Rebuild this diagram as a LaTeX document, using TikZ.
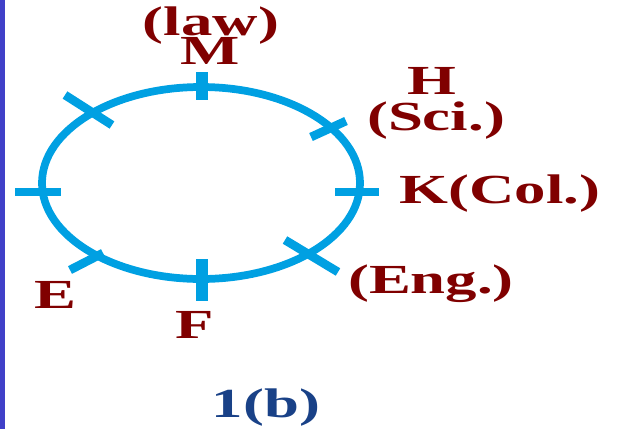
\documentclass[tikz,border=0pt]{standalone}
\usepackage{fontspec}
\setmainfont{Liberation Serif}
\definecolor{lbl}{RGB}{128,0,0}
\definecolor{ringc}{RGB}{0,160,226}
\definecolor{edgec}{RGB}{64,64,200}
\definecolor{capc}{RGB}{25,65,135}
\begin{document}
\begin{tikzpicture}[x=0.75pt,y=-0.75pt,
  lab/.style={text=lbl,font=\fontsize{31}{31}\selectfont\bfseries,inner sep=0pt,anchor=base},
  ringline/.style={draw=ringc,line width=5.8pt},
  htick/.style={draw=ringc,line width=5.3pt},
  vtick/.style={draw=ringc,line width=8.5pt},
  dtick/.style={draw=ringc,line width=6.5pt}]
\useasboundingbox (0,0) rectangle (618,429);
\fill[edgec] (0,0) rectangle (5,429);
\draw[ringline] (201,183) ellipse [x radius=119.25pt, y radius=72pt];
% ticks
\draw[vtick] (202,72) -- (202,100);
\draw[htick] (15,192) -- (61,192);
\draw[htick] (335,192) -- (379,192);
\draw[vtick] (202,259) -- (202,301);
\draw[dtick] (65,95) -- (112,125);
\draw[dtick] (311,137) -- (346,121);
\draw[dtick] (70,270) -- (103,253);
\draw[dtick] (285,240) -- (338,272);
% labels
\node[lab] (law) at (211,35) {\scalebox{1.52}[1]{(law)}};
\node[lab] (m) at (210,64) {\scalebox{1.52}[1]{M}};
\node[lab] (h) at (432,94) {\scalebox{1.52}[1]{H}};
\node[lab] (sci) at (436,130) {\scalebox{1.52}[1]{(Sci.)}};
\node[lab] (k) at (500,203) {\scalebox{1.52}[1]{K(Col.)}};
\node[lab] (eng) at (431,293) {\scalebox{1.52}[1]{(Eng.)}};
\node[lab] (e) at (55,308) {\scalebox{1.52}[1]{E}};
\node[lab] (f) at (195,338) {\scalebox{1.52}[1]{F}};
\node[lab,text=capc] (cap) at (266,417) {\scalebox{1.52}[1]{1(b)}};
\end{tikzpicture}
\end{document}
